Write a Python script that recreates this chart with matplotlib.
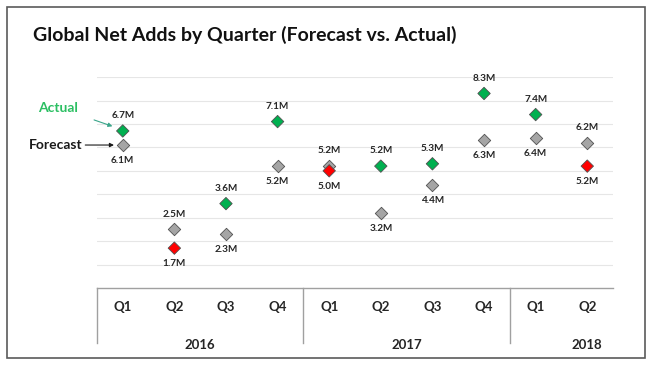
import matplotlib.pyplot as plt
from matplotlib.patches import Rectangle

plt.rcParams['font.family'] = ['Lato', 'DejaVu Sans']

# Data (millions of net adds)
quarters = ["Q1", "Q2", "Q3", "Q4", "Q1", "Q2", "Q3", "Q4", "Q1", "Q2"]
years = ["2016", "2017", "2018"]
forecast = [6.1, 2.5, 2.3, 5.2, 5.2, 3.2, 4.4, 6.3, 6.4, 6.2]
actual = [6.7, 1.7, 3.6, 7.1, 5.0, 5.2, 5.3, 8.3, 7.4, 5.2]

gray = "#a5a5a5"
green = "#00b050"
red = "#ff0000"

fig = plt.figure(figsize=(6.55, 3.67), dpi=100)
ax = fig.add_axes([0.148, 0.2153, 0.788, 0.5747])

x = list(range(len(quarters)))

# forecast points
ax.scatter(x, forecast, marker="D", s=40, color=gray, edgecolor="#505050",
           linewidth=0.6, zorder=3, clip_on=False)

# actual points: green when beating forecast, red when missing it
act_colors = [green if a >= f else red for a, f in zip(actual, forecast)]
ax.scatter(x, actual, marker="D", s=40, color=act_colors, edgecolor="#505050",
           linewidth=0.6, zorder=4, clip_on=False)

# data labels
for i in x:
    a, f = actual[i], forecast[i]
    up = a >= f
    ax.annotate(f"{a:.1f}M", (i, a), xytext=(0, 11 if up else -11),
                textcoords="offset points", ha="center", va="center",
                fontsize=7.2, fontweight="bold", color="#262626")
    ax.annotate(f"{f:.1f}M", (i, f), xytext=(0, -11 if up else 11),
                textcoords="offset points", ha="center", va="center",
                fontsize=7.2, fontweight="bold", color="#262626")

ax.set_xlim(-0.5, len(quarters) - 0.5)
ax.set_ylim(0, 9)
ax.set_yticks(range(1, 10))
ax.yaxis.grid(True, color="#e6e6e6", linewidth=0.8)
ax.set_axisbelow(True)
ax.tick_params(left=False, bottom=False, labelleft=False, labelbottom=False)
for side in ["left", "right", "top"]:
    ax.spines[side].set_visible(False)
ax.spines["bottom"].set_color("#a0a0a0")
ax.spines["bottom"].set_linewidth(1.0)

# two-level category axis
tr = ax.get_xaxis_transform()
for i, q in enumerate(quarters):
    ax.text(i, -0.09, q, transform=tr, ha="center", va="center",
            fontsize=9.5, fontweight="bold", color="#262626")
for xs in [-0.5, 3.5, 7.5]:
    ax.plot([xs, xs], [0, -0.26], transform=tr, color="#a0a0a0",
            linewidth=1.0, clip_on=False)
year_pos = [1.5, 5.5, 9.0]
for xp, yr in zip(year_pos, years):
    ax.text(xp, -0.27, yr, transform=tr, ha="center", va="center",
            fontsize=9.5, fontweight="bold", color="#262626")

# legend-like annotations
ax.annotate("Actual", xy=(0 - 0.2, actual[0] + 0.2), xytext=(-1.25, 7.7),
            textcoords="data", ha="center", va="center", fontsize=10,
            fontweight="bold", color="#2bbf62", annotation_clip=False,
            arrowprops=dict(arrowstyle="-|>", color="#3aa58a", lw=0.8,
                            mutation_scale=6, shrinkA=10, shrinkB=0))
ax.annotate("Forecast", xy=(0 - 0.17, forecast[0]), xytext=(-1.3, forecast[0]),
            textcoords="data", ha="center", va="center", fontsize=10,
            fontweight="bold", color="#1a1a1a", annotation_clip=False,
            arrowprops=dict(arrowstyle="-|>", color="#1a1a1a", lw=0.8,
                            mutation_scale=6, shrinkA=27, shrinkB=0))

fig.text(0.05, 0.905, "Global Net Adds by Quarter (Forecast vs. Actual)",
         ha="left", va="center", fontsize=14, fontweight="bold", color="#111111")

# chart frame
fig.patches.append(Rectangle((0.0107, 0.0245), 0.974, 0.956,
                             transform=fig.transFigure, fill=False,
                             edgecolor="#5a5a5a", linewidth=1.2))

fig.savefig("out.png", dpi=100)
